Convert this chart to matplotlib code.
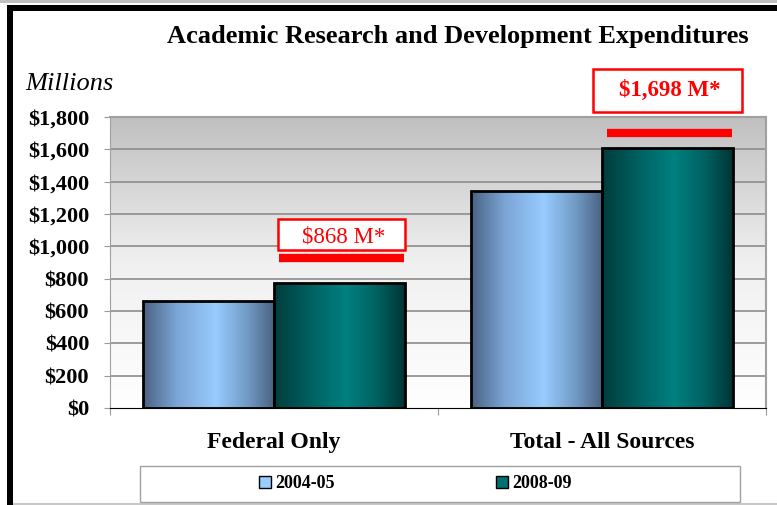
import matplotlib
matplotlib.use("Agg")
import matplotlib.pyplot as plt
import numpy as np
from matplotlib.colors import LinearSegmentedColormap
from matplotlib.patches import Rectangle
from matplotlib.lines import Line2D

# --- data ---
categories = ["Federal Only", "Total - All Sources"]
series = ["2004-05", "2008-09"]
values_0405 = [662, 1344]
values_0809 = [771, 1610]
target_labels = ["$868 M*", "$1,698 M*"]
target_lines = [925, 1698]
yticks = [0, 200, 400, 600, 800, 1000, 1200, 1400, 1600, 1800]

serif = "Liberation Serif"
W, H = 777, 505


def fx(px):
    return px / W


def fy(py):
    return 1 - py / H


fig = plt.figure(figsize=(7.77, 5.05), dpi=100)

# outer frame: gray strip on top, thick black top/left borders
fig.add_artist(Rectangle((0, fy(3)), 1, 3 / H, transform=fig.transFigure, color="#c0c0c0", lw=0))
fig.add_artist(Rectangle((fx(7), fy(11)), 1, 6 / H, transform=fig.transFigure, color="black", lw=0))
fig.add_artist(Rectangle((fx(7), 0), 6 / W, fy(5), transform=fig.transFigure, color="black", lw=0))
fig.add_artist(Rectangle((fx(13), 0), 1, 2 / H, transform=fig.transFigure, color="#c8c8c8", lw=0))

ax = fig.add_axes([fx(110), 97 / H, 656 / W, 291 / H])

# plot-area background: gray at top fading to white
bg = LinearSegmentedColormap.from_list("bg", ["#ffffff", "#f0f0f0", "#c0c0c0"])
ax.imshow(np.linspace(0, 1, 256).reshape(-1, 1), cmap=bg, origin="lower",
          extent=[-0.5, 1.5, 0, 1800], aspect="auto", zorder=0)

for y in yticks[1:]:
    ax.axhline(y, color="#8c8c8c", lw=1.2, zorder=1)

blue = LinearSegmentedColormap.from_list(
    "blue", [(0, "#4a6282"), (0.25, "#7aa4d4"), (0.55, "#99ccff"), (0.8, "#7099c4"), (1, "#4a6080")])
teal = LinearSegmentedColormap.from_list(
    "teal", [(0, "#003c3c"), (0.3, "#006464"), (0.55, "#008080"), (0.8, "#005e5e"), (1, "#003333")])

x = np.arange(len(categories))
w = 0.4
grad = np.linspace(0, 1, 256).reshape(1, -1)
for vals, cmap, off in [(values_0405, blue, -w / 2), (values_0809, teal, w / 2)]:
    bars = ax.bar(x + off, vals, w, facecolor="none", edgecolor="black", lw=2, zorder=3)
    for b in bars:
        im = ax.imshow(grad, cmap=cmap, extent=[b.get_x(), b.get_x() + b.get_width(), 0, b.get_height()],
                       aspect="auto", zorder=2)
        im.set_clip_path(b)

ax.set_xlim(-0.5, 1.5)
ax.set_ylim(0, 1800)

# target lines
for i in range(len(categories)):
    ax.hlines(target_lines[i], x[i] + 0.015, x[i] + 0.395, color="red", lw=6, zorder=4)

# target label boxes (pixel boxes from the reference layout)
boxes = [(278, 219, 405, 250), (593, 69, 742, 112)]
text_pos = [(344, 237), (670, 90)]
weights = ["normal", "bold"]
for (x0, y0, x1, y1), (tx, ty), lab, wt in zip(boxes, text_pos, target_labels, weights):
    fig.add_artist(Rectangle((fx(x0), fy(y1)), (x1 - x0) / W, (y1 - y0) / H,
                             transform=fig.transFigure, fc="white", ec="red", lw=1.8, zorder=5))
    fig.text(fx(tx), fy(ty), lab, ha="center", va="center", color="red", fontsize=16.5,
             family=serif, weight=wt, zorder=6)

ax.set_yticks(yticks)
ax.set_yticklabels([f"${v:,}" for v in yticks], family=serif, weight="bold", fontsize=16)
ax.set_xticks([-0.5, 0.5, 1.5])
ax.set_xticklabels([])
ax.tick_params(axis="y", length=4, color="#999999", pad=11)
ax.tick_params(axis="x", length=5, color="#999999")
for s in ["top", "right"]:
    ax.spines[s].set_color("#a0a0a0")
    ax.spines[s].set_linewidth(1.5)
ax.spines["left"].set_color("#a0a0a0")
ax.spines["bottom"].set_color("black")

for i, c in enumerate(categories):
    ax.text(x[i], -216, c, ha="center", va="center", family=serif, weight="bold",
            fontsize=17, clip_on=False)

fig.text(fx(458), fy(37), "Academic Research and Development Expenditures",
         ha="center", va="center", family=serif, weight="bold", fontsize=19)
fig.text(fx(25), fy(84), "Millions", ha="left", va="center", family=serif,
         style="italic", fontsize=19)

# legend box
fig.add_artist(Rectangle((fx(140), 3 / H), 600 / W, 36 / H, transform=fig.transFigure,
                         fc="white", ec="#a0a0a0", lw=1))
handles = [
    Line2D([], [], ls="none", marker="s", markersize=8, markerfacecolor="#99ccff", markeredgecolor="black"),
    Line2D([], [], ls="none", marker="s", markersize=8, markerfacecolor="#007070", markeredgecolor="black"),
]
fig.legend(handles, series, loc="center", bbox_to_anchor=(fx(414), 21 / H), ncol=2,
           frameon=False, columnspacing=8.8, handletextpad=0.05, handlelength=1,
           prop=dict(family=serif, weight="bold", size=13))

fig.savefig("out.png", dpi=100)
